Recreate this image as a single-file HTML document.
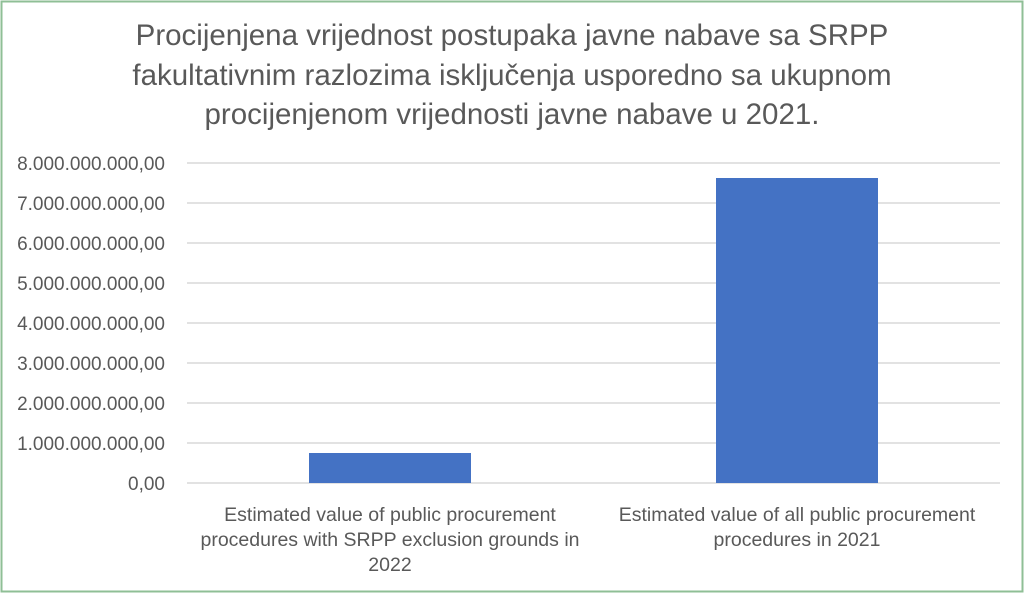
<!DOCTYPE html>
<html><head><meta charset="utf-8"><style>
body{margin:0;width:1024px;height:594px;background:#fff;overflow:hidden;font-family:"Liberation Sans",sans-serif;}
</style></head><body>
<svg width="1024" height="594" xmlns="http://www.w3.org/2000/svg" font-family="Liberation Sans, sans-serif">
<rect x="1.5" y="1.5" width="1021" height="590" fill="#fff" stroke="#8fbf96" stroke-width="2"/>
<g fill="#595959" font-size="29.5" text-anchor="middle">
<text x="512" y="45">Procijenjena vrijednost postupaka javne nabave sa SRPP</text>
<text x="512" y="85">fakultativnim razlozima isključenja usporedno sa ukupnom</text>
<text x="512" y="124">procijenjenom vrijednosti javne nabave u 2021.</text>
</g>
<g stroke="#d9d9d9" stroke-width="1.5">
<line x1="187" x2="1000" y1="163" y2="163"/><line x1="187" x2="1000" y1="203" y2="203"/>
<line x1="187" x2="1000" y1="243" y2="243"/><line x1="187" x2="1000" y1="283" y2="283"/>
<line x1="187" x2="1000" y1="323" y2="323"/><line x1="187" x2="1000" y1="363" y2="363"/>
<line x1="187" x2="1000" y1="403" y2="403"/><line x1="187" x2="1000" y1="443" y2="443"/>
<line x1="187" x2="1000" y1="483" y2="483"/>
</g>
<g fill="#595959" font-size="19" text-anchor="end">
<text x="165" y="170">8.000.000.000,00</text><text x="165" y="210">7.000.000.000,00</text>
<text x="165" y="250">6.000.000.000,00</text><text x="165" y="290">5.000.000.000,00</text>
<text x="165" y="330">4.000.000.000,00</text><text x="165" y="370">3.000.000.000,00</text>
<text x="165" y="410">2.000.000.000,00</text><text x="165" y="450">1.000.000.000,00</text>
<text x="165" y="490">0,00</text>
</g>
<rect x="309" y="453" width="162" height="30" fill="#4472c4"/>
<rect x="716" y="178" width="162" height="305" fill="#4472c4"/>
<g fill="#595959" font-size="19.5" text-anchor="middle">
<text x="390" y="521">Estimated value of public procurement</text>
<text x="390" y="546">procedures with SRPP exclusion grounds in</text>
<text x="390" y="571">2022</text>
<text x="797" y="521">Estimated value of all public procurement</text>
<text x="797" y="546">procedures in 2021</text>
</g>
</svg>
</body></html>
